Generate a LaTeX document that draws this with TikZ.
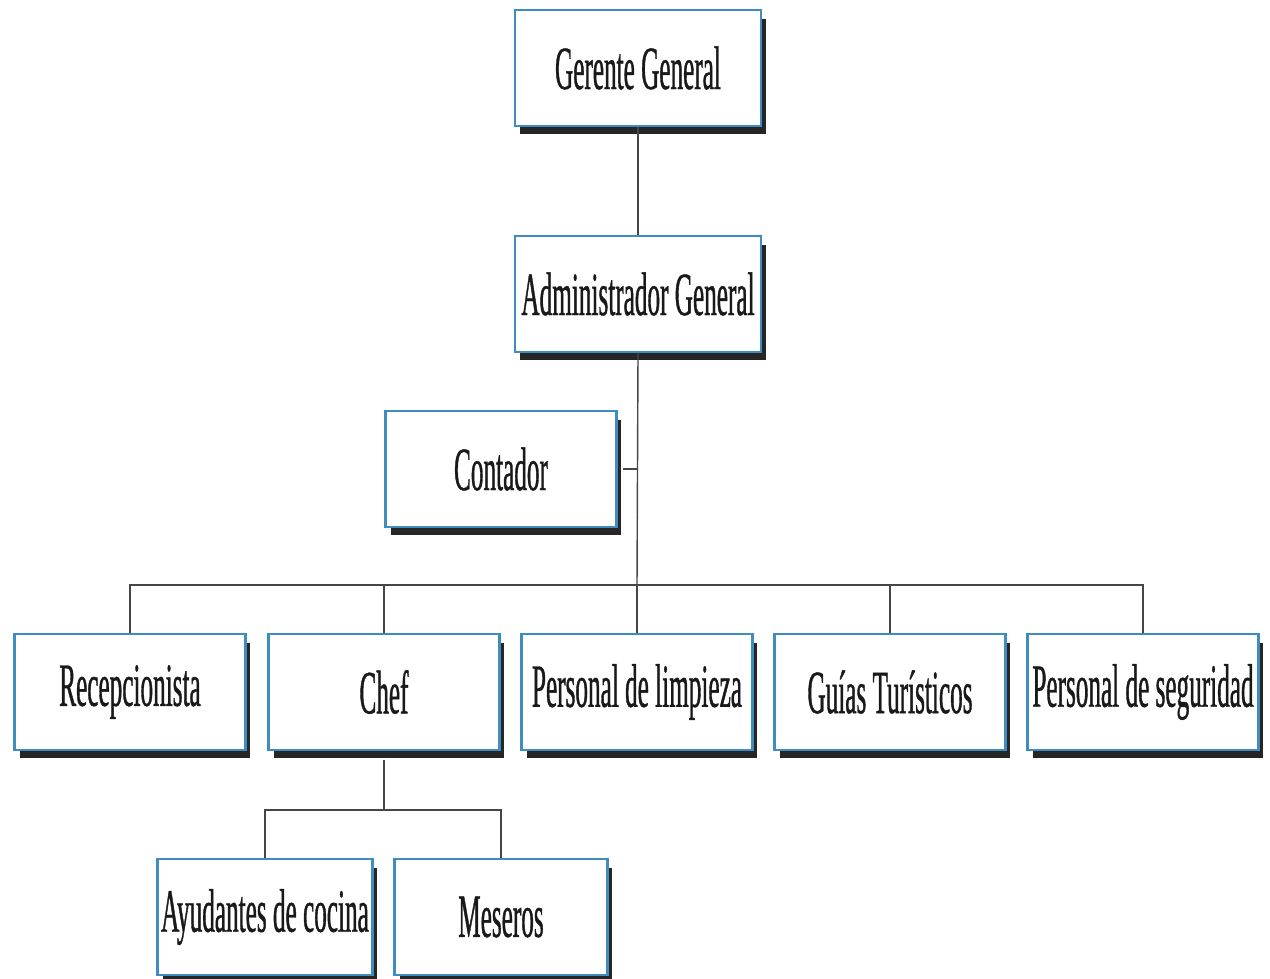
\documentclass[tikz,border=0pt]{standalone}
\usepackage{fontspec}
\newfontfamily\orgfont[FakeStretch=0.41,FakeBold=0.6]{Liberation Serif}
\usetikzlibrary{shadows}
\definecolor{boxblue}{RGB}{62,140,192}
\definecolor{linegray}{RGB}{70,70,70}
\tikzset{
	puesto/.style={draw=boxblue, line width=1.3pt, fill=white, inner sep=0pt,
		minimum width=4.62cm, minimum height=2.32cm, align=center,
		font=\orgfont\fontsize{35}{40}\selectfont, text=black!90,
		drop shadow={shadow xshift=0.1cm, shadow yshift=-0.17cm, fill=black!85, opacity=1}},
	enlace/.style={draw=linegray, line width=0.8pt}
}

\begin{document}
\begin{tikzpicture}[x=0.02cm,y=-0.02cm]
			\useasboundingbox (0,0) rectangle (1270,979);
			% direccion
			\node[puesto, minimum width=4.92cm] (ger) at (638,68) {Gerente General};
			\node[puesto, minimum width=4.92cm] (adm) at (638,294) {Administrador General};
			\node[puesto] (cont) at (501,469) {Contador};
			% areas
			\node[puesto] (rec) at (130,692) {Recepcionista};
			\node[puesto] (chef) at (384,692) {Chef};
			\node[puesto] (limp) at (637,692) {Personal de limpieza};
			\node[puesto] (guia) at (890,692) {Guías Turísticos};
			\node[puesto] (seg) at (1143,692) {Personal de seguridad};
			% cocina
			\node[puesto, minimum width=4.3cm] (ayu) at (265,917) {Ayudantes de cocina};
			\node[puesto, minimum width=4.26cm] (mes) at (501,917) {Meseros};
			\coordinate (barra) at (637,585);
			\coordinate (barcoc) at (384,810);
			\draw[enlace] (ger.south) -- (adm.north);
			\draw[enlace] (adm.south) -- (barra);
			\draw[enlace, line width=1.6pt] ([xshift=0.1cm]cont.east) -- (cont.east -| barra);
			\draw[enlace] (rec.north) |- (seg.north |- barra) -- (seg.north);
			\foreach \p in {chef,limp,guia}
			\draw[enlace] (\p.north) -- (\p.north |- barra);
			\draw[enlace] ([yshift=-0.17cm]chef.south) -- (barcoc);
			\draw[enlace] (ayu.north) |- (mes.north |- barcoc) -- (mes.north);
		\end{tikzpicture}
\end{document}
